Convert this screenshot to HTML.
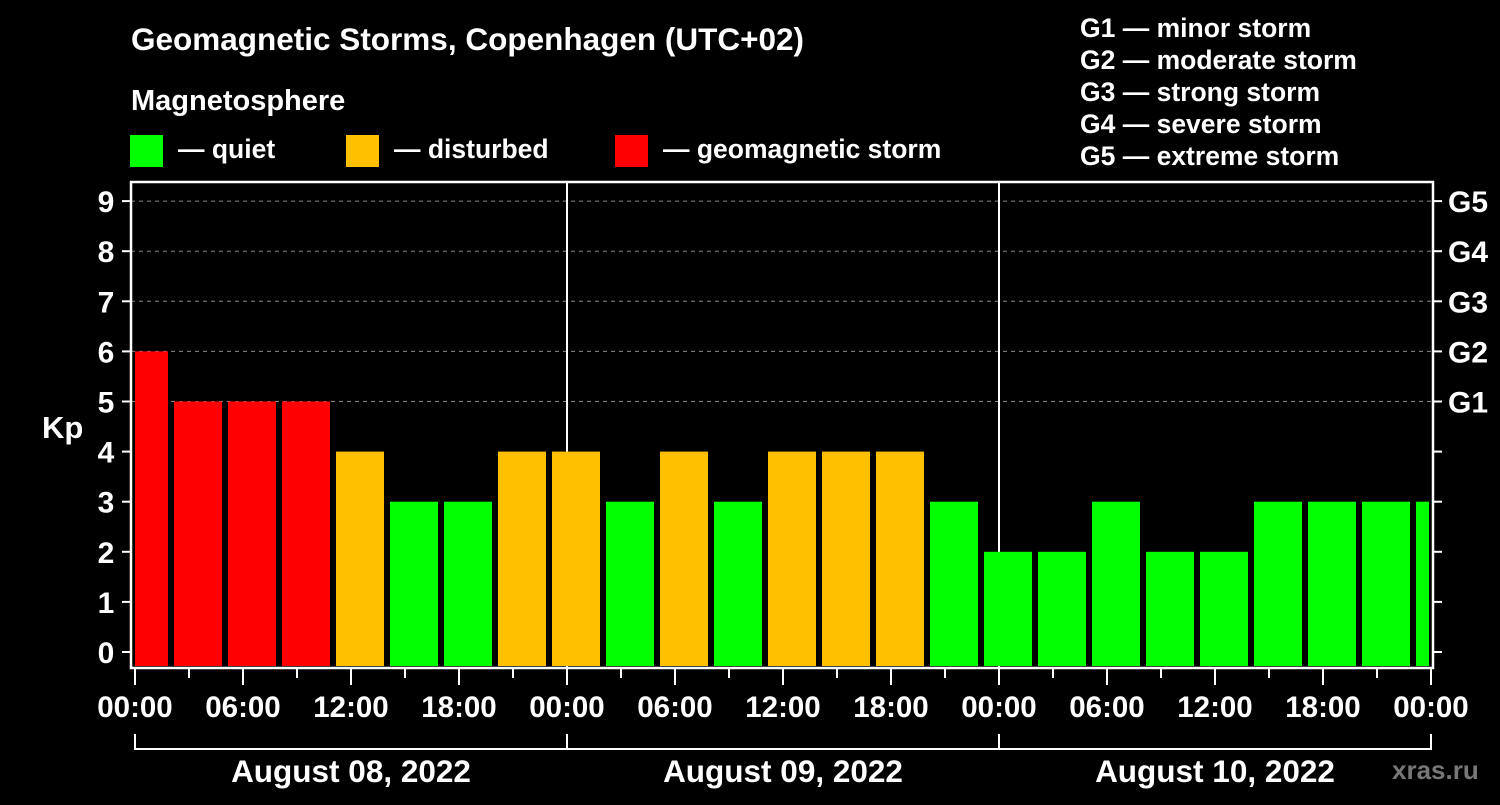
<!DOCTYPE html>
<html><head><meta charset="utf-8"><style>
body{margin:0;background:#000;width:1500px;height:800px;overflow:hidden}
svg text{font-family:"Liberation Sans",sans-serif;font-weight:bold;fill:#fff}
</style></head><body>
<svg id="chart" width="1500" height="800" xmlns="http://www.w3.org/2000/svg">
<rect width="1500" height="800" fill="#000"/>
<text x="131" y="50" font-size="31.5">Geomagnetic Storms, Copenhagen (UTC+02)</text>
<text x="131" y="110" font-size="29">Magnetosphere</text>
<g><rect x="130" y="135" width="33" height="32" fill="#00ff00"/><text x="178" y="158" font-size="26.5">— quiet</text></g>
<g><rect x="346" y="135" width="33" height="32" fill="#ffc000"/><text x="394" y="158" font-size="26.5">— disturbed</text></g>
<g><rect x="615" y="135" width="33" height="32" fill="#ff0000"/><text x="663" y="158" font-size="26.5">— geomagnetic storm</text></g>
<g font-size="26.5">
<text x="1080" y="37">G1 — minor storm</text>
<text x="1080" y="69">G2 — moderate storm</text>
<text x="1080" y="101">G3 — strong storm</text>
<text x="1080" y="133">G4 — severe storm</text>
<text x="1080" y="165">G5 — extreme storm</text>
</g>
<text x="42" y="438" font-size="31">Kp</text>
<text x="1392" y="779" font-size="26" style="fill:#777">xras.ru</text>
<g id="grid"></g><g id="bars"></g><g id="axes"></g>
</svg>
<script>
const kpValues=[6,5,5,5,4,3,3,4,4,3,4,3,4,4,4,3,2,2,3,2,2,3,3,3,3];
const slotStartHours=[-1,2,5,8,11,14,17,20,23,26,29,32,35,38,41,44,47,50,53,56,59,62,65,68,71];
const yTicks=[0,1,2,3,4,5,6,7,8,9];
const gLabels=["G1","G2","G3","G4","G5"];
const gLevels=[5,6,7,8,9];
const xTickLabels=["00:00","06:00","12:00","18:00","00:00","06:00","12:00","18:00","00:00","06:00","12:00","18:00","00:00"];
const dayLabels=["August 08, 2022","August 09, 2022","August 10, 2022"];
const NS="http://www.w3.org/2000/svg";
const X=h=>135+h*18;
const Y=v=>652-v*50.1;
const L=131,R=1433,T=182,B=668;
function mk(p,tag,a,txt){const e=document.createElementNS(NS,tag);for(const k in a)e.setAttribute(k,a[k]);if(txt!=null)e.textContent=txt;p.appendChild(e);return e;}
const grid=document.getElementById('grid'),bars=document.getElementById('bars'),axes=document.getElementById('axes');
gLevels.forEach(v=>{const l=mk(grid,'line',{x1:L,x2:R,y1:Y(v),y2:Y(v),stroke:'#888','stroke-width':1,'stroke-dasharray':'4,4'});

});
[24,48].forEach(h=>{const l=mk(grid,'line',{x1:X(h),x2:X(h),y1:T,y2:B,stroke:'#fff','stroke-width':2});

});
kpValues.forEach((v,i)=>{
 let x1=Math.max(X(slotStartHours[i])+3,L+4),x2=Math.min(X(slotStartHours[i]+3)-3,R-4);
 const c=v>=5?'#ff0000':v>=4?'#ffc000':'#00ff00';
 const r=mk(bars,'rect',{x:x1,y:Y(v),width:x2-x1,height:666-Y(v),fill:c});
 
 
});
const fr=mk(axes,'rect',{x:L,y:T,width:R-L,height:B-T,fill:'none',stroke:'#fff','stroke-width':2.5});


yTicks.forEach(v=>{
 mk(axes,'line',{x1:122,x2:L,y1:Y(v),y2:Y(v),stroke:'#fff','stroke-width':2});
 mk(axes,'line',{x1:R,x2:1442,y1:Y(v),y2:Y(v),stroke:'#fff','stroke-width':2});
 const t=mk(axes,'text',{x:106,y:Y(v)+11,'font-size':30,'text-anchor':'middle'},v);
 
 
});
gLabels.forEach((g,i)=>{const t=mk(axes,'text',{x:1448,y:Y(gLevels[i])+11,'font-size':30},g);

});
for(let h=0;h<=72;h+=3){mk(axes,'line',{x1:X(h),x2:X(h),y1:B,y2:h%6===0?685:678,stroke:'#fff','stroke-width':2});}
xTickLabels.forEach((s,i)=>{const t=mk(axes,'text',{x:X(i*6),y:717,'font-size':29.5,'text-anchor':'middle'},s);

});
mk(axes,'polyline',{points:`${X(0)},734 ${X(0)},749 ${X(72)},749 ${X(72)},734`,fill:'none',stroke:'#fff','stroke-width':2});
[24,48].forEach(h=>mk(axes,'line',{x1:X(h),x2:X(h),y1:734,y2:749,stroke:'#fff','stroke-width':2}));
dayLabels.forEach((s,i)=>{const t=mk(axes,'text',{x:X(i*24+12),y:782,'font-size':31.5,'text-anchor':'middle'},s);

});
</script>
</body></html>
